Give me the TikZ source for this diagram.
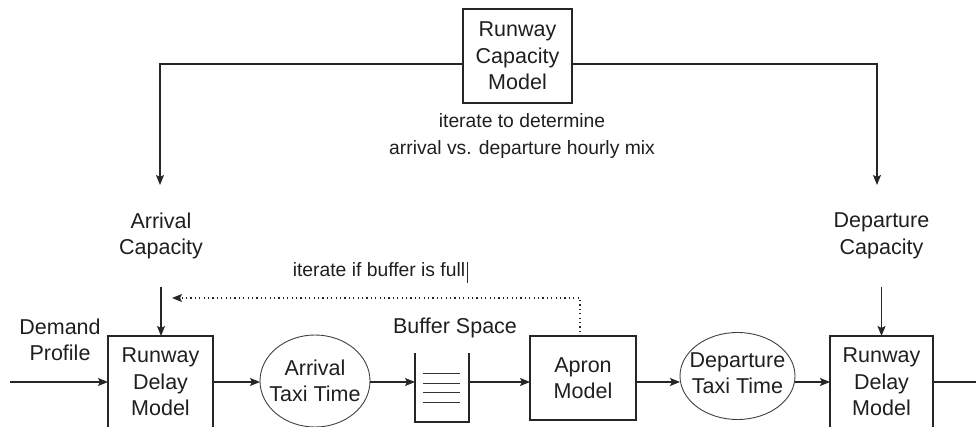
\documentclass[tikz,border=0pt]{standalone}
\usepackage{fontspec}
\setmainfont{Liberation Sans}
\usetikzlibrary{arrows.meta,shapes.geometric}
\begin{document}
\begin{tikzpicture}[x=1pt,y=-1pt,
  every node/.style={inner sep=0pt, outer sep=0pt, align=center, text=black!88},
  big/.style={font=\fontsize{21.5}{26.5}\selectfont},
  small/.style={font=\fontsize{19.3}{27}\selectfont},
  box/.style={draw=black!85, line width=1.2pt, big},
  oval/.style={ellipse, draw=black!75, line width=0.9pt},
  ln/.style={draw=black!85, line width=1.2pt},
  arr/.style={ln, -{Stealth[length=10pt,width=8pt,inset=2pt]}},
  fb/.style={arr, dash pattern=on 1.2pt off 3.2pt}]
\useasboundingbox (0,0) rectangle (976,427);
\clip (0,0) rectangle (976,427);

% nodes
\node[box, minimum width=109pt, minimum height=94pt] (rcm) at (517.5,56) {Runway\\Capacity\\Model};
\node[small] (itd) at (522,136.5) {iterate to determine\\arrival vs. departure hourly mix};
\node[big, minimum height=102pt] (ac) at (161,236) {Arrival\\Capacity};
\node[big, minimum height=102pt] (dc) at (881.5,236) {Departure\\Capacity};
\node[small] (ibf) at (379,270) {iterate if buffer is full};
\node[big] (dp) at (60,340) {Demand\\Profile};
\node[box, minimum width=105pt, minimum height=92pt] (rdm1) at (160.5,382) {Runway\\Delay\\Model};
\node[oval, minimum width=110pt, minimum height=92pt] (ata) at (315,381) {};
\node[big] (atat) at (ata) {Arrival\\Taxi Time};
\node[minimum width=54pt, minimum height=69pt] (buf) at (442,387.5) {};
\node[big] (bs) at (455,328) {Buffer Space};
\node[box, minimum width=106pt, minimum height=84pt] (apr) at (583,378) {Apron\\Model};
\node[oval, minimum width=115pt, minimum height=87pt] (dta) at (737.5,376) {};
\node[big] (dtat) at (737.5,373) {Departure\\Taxi Time};
\node[box, minimum width=103pt, minimum height=92pt] (rdm2) at (881.5,382) {Runway\\Delay\\Model};

% helper coordinates
\coordinate (row) at (0,382);
\coordinate (in) at (10,382);
\coordinate (out) at (988,382);
\coordinate (tl) at (160,64);
\coordinate (tr) at (877,64);
\coordinate (fbend) at (172,298);

% top loop
\draw[arr] (rcm.west |- tl) -- (tl) -- (tl |- ac.north);
\draw[arr] (rcm.east |- tr) -- (tr) -- (tr |- dc.north);
\draw[arr] (ac.south) -- (ac.south |- rdm1.north);
\draw[arr] (dc.south) -- (dc.south |- rdm2.north);

% main chain
\draw[arr] (in) -- (rdm1.west |- row);
\draw[arr] (rdm1.east |- row) -- (ata.west |- row);
\draw[arr] (ata.east |- row) -- (buf.west |- row);
\draw[arr] (buf.east |- row) -- (apr.west |- row);
\draw[arr] (apr.east |- row) -- (dta.west |- row);
\draw[arr] (dta.east |- row) -- (rdm2.west |- row);
\draw[arr] (rdm2.east |- row) -- (out);

% buffer
\draw[ln] (buf.north west) -- (buf.south west) -- (buf.south east) -- (buf.north east);
\foreach \d in {-14.5,-4.5,4.5,14.5}
  \draw[draw=black!80, line width=1pt] ([shift={(-19,\d)}]buf.center) -- ++(37,0);

% feedback
\draw[fb] ([xshift=-3pt,yshift=4pt]apr.north) |- (fbend);
\draw[draw=black!85, line width=0.9pt] ([xshift=2pt]ibf.east) ++(0,-8) -- ++(0,21);
\end{tikzpicture}
\end{document}
